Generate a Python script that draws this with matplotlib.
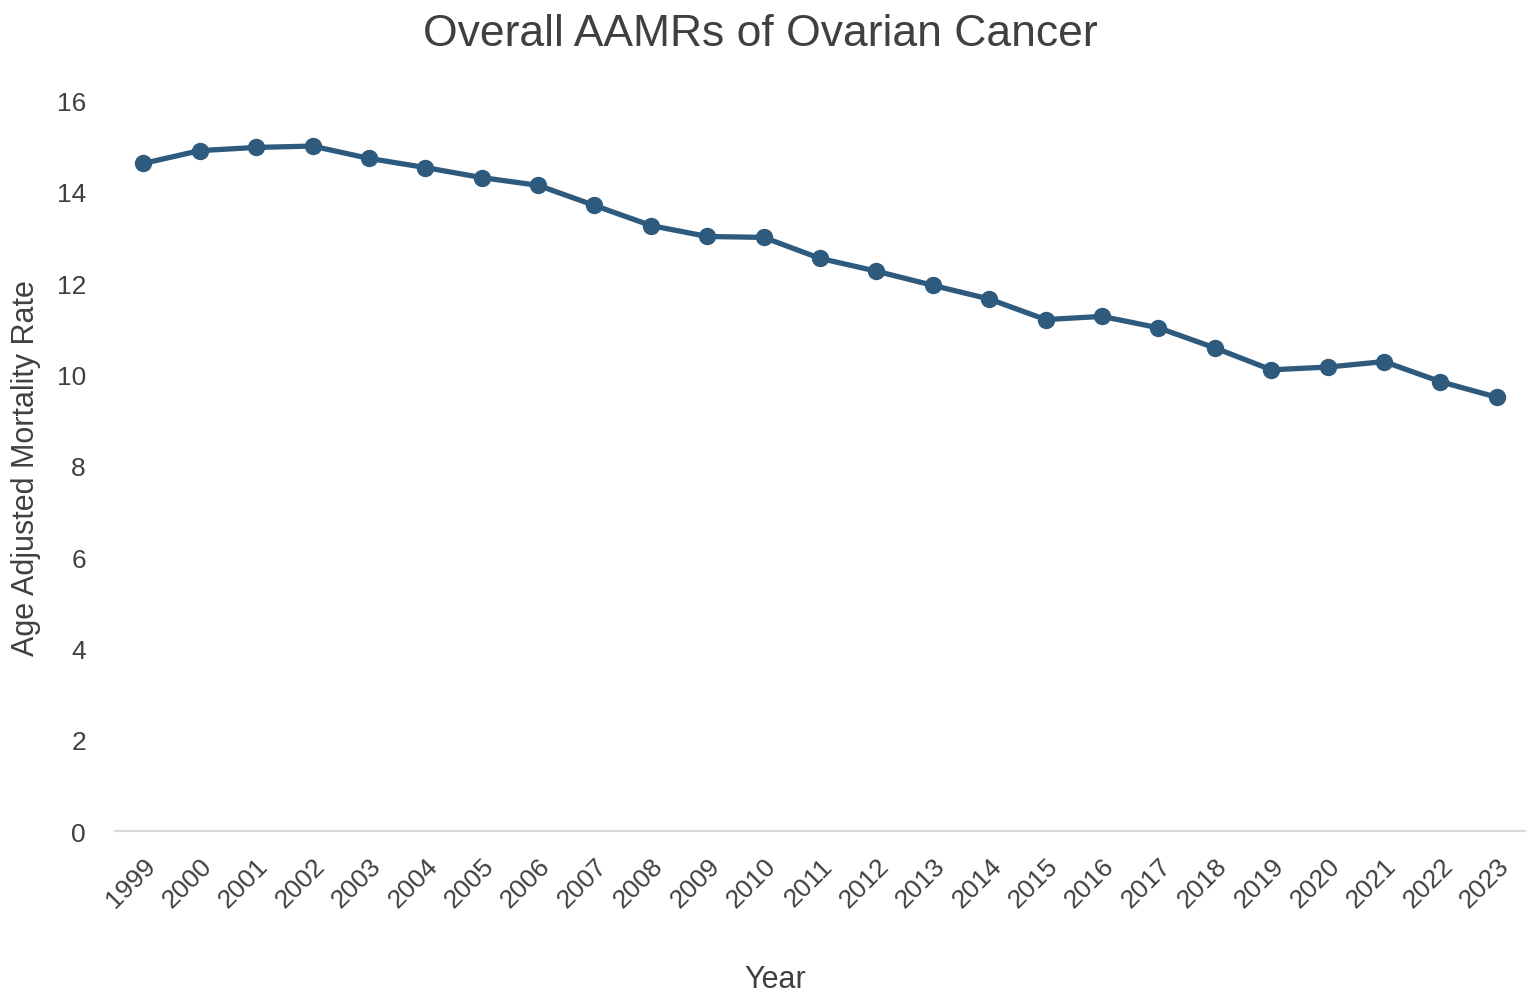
import numpy as np
import matplotlib
matplotlib.use('Agg')
import matplotlib.pyplot as plt

plt.rcParams['font.family'] = ['Liberation Sans', 'DejaVu Sans']

years = [str(y) for y in range(1999, 2024)]
aamr = [14.62, 14.90, 14.97, 15.00, 14.73, 14.53, 14.31, 14.14, 13.70, 13.26,
        13.02, 13.00, 12.54, 12.26, 11.95, 11.65, 11.20, 11.27, 11.02, 10.58,
        10.10, 10.16, 10.28, 9.84, 9.50]

text_col = '#404040'
line_col = '#2E5A7E'

fig = plt.figure(figsize=(15.35, 10.04), dpi=100)
ax = fig.add_axes([0.075, 0.1713, 0.9185, 0.7277])

x = np.arange(len(years))
ax.plot(x, aamr, color=line_col, linewidth=3.8, marker='o', markersize=11.5)

ax.set_xlim(-0.5, len(years) - 0.5)
ax.set_ylim(0, 16)
ax.set_yticks(np.arange(0, 17, 2))
ax.set_xticks(x)
ax.set_xticklabels(years, rotation=45, ha='right', rotation_mode='anchor')

for s in ['top', 'right', 'left']:
    ax.spines[s].set_visible(False)
ax.spines['bottom'].set_color('#d9d9d9')
ax.spines['bottom'].set_linewidth(1.5)
ax.tick_params(axis='both', length=0, labelsize=19, labelcolor=text_col)
ax.tick_params(axis='y', pad=21)
ax.tick_params(axis='x', pad=16)

fig.text(0.495, 0.966, 'Overall AAMRs of Ovarian Cancer', fontsize=32,
         color=text_col, ha='center', va='center')
fig.text(0.017, 0.534, 'Age Adjusted Mortality Rate', fontsize=22,
         color=text_col, ha='center', va='center', rotation=90)
fig.text(0.505, 0.024, 'Year', fontsize=22, color=text_col,
         ha='center', va='center')

fig.savefig('out.png', dpi=100)
